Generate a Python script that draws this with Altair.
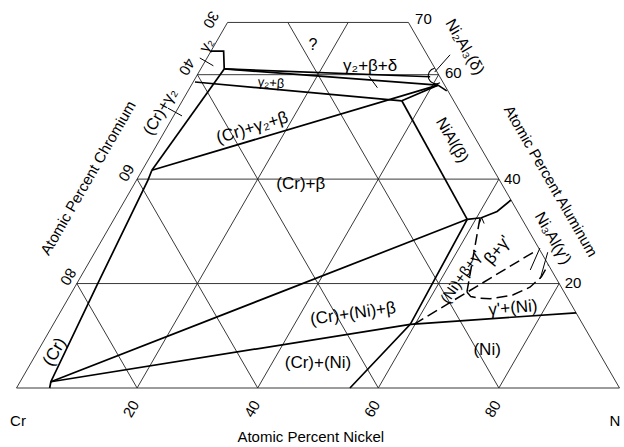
import math
import altair as alt
import pandas as pd

# ---- Cr-Ni-Al isothermal section, compositions as (Ni at.%, Al at.%) ----

# outline of the truncated composition triangle (Al <= 70 %)
outline = [(0, 0), (100, 0), (30, 70), (0, 70), (0, 0)]
grid_al = [20, 40, 60]
grid_ni = [20, 40, 60, 80]
grid_cr = [20, 40, 60, 80]
al_top = 70

# phase boundaries (solid)
phase_lines = {
    "cr_solvus": [(5.5, 0), (5.1, 1.2), (3.5, 19.7), (1.9, 39.8), (1.6, 41.7)],
    "g2_box": [(0, 64.5), (2.1, 64.5), (3.9, 61.1)],
    "g2_cr": [(3.9, 61.1), (1.6, 41.7)],
    "g2_delta": [(3.9, 61.1), (38.8, 59.6)],
    "g2_beta": [(3.9, 61.1), (40.9, 58.0)],
    "g2b_lower": [(0.3, 58.6), (36.4, 55.0)],
    "beta_top": [(36.4, 55.0), (40.9, 58.0), (42.9, 56.9)],
    "cr_beta": [(1.6, 41.7), (40.9, 58.0)],
    "beta_left": [(36.4, 55.0), (58.6, 32.3)],
    "cr_ni_beta_1": [(5.1, 1.2), (58.6, 32.3)],
    "cr_ni_beta_2": [(5.1, 1.2), (59.2, 12.2)],
    "ni_solvus": [(59.2, 12.2), (85.6, 14.4)],
    "ni_boundary": [(55.3, 0), (59.2, 12.2), (58.6, 32.3)],
    "beta_gp": [(58.6, 32.3), (60.8, 32.6), (62.8, 33.8), (64.0, 36.0)],
}

# uncertain boundaries (dashed)
dashed_lines = {
    "beta_gp_tie": [(60.6, 32.5), (65.5, 18.4)],
    "gp_upper": [(59.8, 12.2), (73.1, 26.4)],
    "gp_lower": [(65.5, 18.4), (66.6, 17.5), (68.2, 17.2), (70.0, 17.1),
                 (73.4, 17.8), (75.5, 19.3), (76.4, 21.3), (76.4, 23.6)],
}

# leaders, ticks and small marks (thin)
thin_marks = {
    "gp_mark1": [(73.9, 22.6), (73.4, 26.8)],
    "gp_mark2": [(76.4, 20.9), (75.1, 26.0)],
    "arrow": [(61.0, 31.5), (60.8, 32.65), (61.8, 31.5)],
    "lead_g2bd": [(28.6, 59.7), (31.1, 57.5)],
    "lead_delta": [(40.0, 63.8), (39.1, 60.5)],
    "tick_crg2": [(-1.7, 53.6), (1.4, 52.1)],
    "tick_g2": [(-1.2, 63.2), (1.8, 61.7)],
}

# delta (Ni2Al3) field marker centre
delta_ni, delta_al = 39.7, 59.75

# centred labels: text, Ni, Al, angle, font size
labels = [
    ("Cr", 3.4, -6.3, 0, 15), ("N", 102.4, -6.3, 0, 15),
    ("20", 21.0, -4.0, 300, 15), ("40", 41.1, -4.0, 300, 15),
    ("60", 61.0, -4.0, 300, 15), ("80", 81.0, -4.0, 300, 15),
    ("Atomic Percent Nickel", 53.5, -9.4, 0, 15),
    ("30", -3.0, 70.5, 120, 15), ("40", -2.5, 61.5, 120, 15),
    ("60", -2.4, 41.2, 120, 15), ("80", -2.1, 21.3, 120, 15),
    ("Atomic Percent Chromium", -8.2, 40.2, 300, 15),
    ("Atomic Percent Aluminum", 68.8, 39.6, 60, 15),
    ("?", 16.3, 65.7, 0, 16),
    ("γ₂+β+δ", 27.8, 61.7, 0, 17),
    ("γ₂+β", 13.0, 58.4, 4, 13),
    ("(Cr)+γ₂+β", 14.2, 49.8, 343, 17),
    ("(Cr)+β", 27.6, 39.1, 0, 17),
    ("(Cr)+(Ni)+β", 48.7, 14.2, 352, 17),
    ("(Cr)+(Ni)", 47.6, 4.8, 0, 17),
    ("(Ni)", 74.4, 7.3, 0, 17),
    ("γ'+(Ni)", 74.7, 15.3, 355, 17),
    ("β+γ'", 66.6, 26.4, 310, 17),
    ("(Ni)+β+γ'", 63.1, 21.3, 305, 15),
    ("Ni₃Al(γ')", 74.6, 28.7, 60, 16),
    ("NiAl(β)", 48.5, 47.5, 60, 16),
    ("Ni₂Al₃(δ)", 41.7, 65.3, 60, 16),
    ("(Cr)", 2.9, 6.9, 300, 17),
    ("(Cr)+γ₂", -2.6, 52.9, 300, 16),
    ("γ₂", -1.4, 65.7, 300, 15),
]

# aluminium scale labels on the Ni-Al side (left aligned)
al_ticks = ["20", "40", "60", "70"]
al_tick_pos = [(80.8, 20.2), (60.8, 40.1), (40.9, 60.3), (30.8, 70.6)]

FONT = "Liberation Sans"
H = math.sqrt(3) / 2


def proj(ni, al):
    return ni + al / 2, al * H


def lines_frame(groups):
    rows = []
    for name, pts in groups.items():
        for i, (ni, al) in enumerate(pts):
            x, y = proj(ni, al)
            rows.append({"seg": name, "order": i, "X": x, "Y": y})
    return pd.DataFrame(rows)


# grid segments
grid = {"outline": outline}
for v in grid_al:
    grid[f"al{v}"] = [(0, v), (100 - v, v)]
for v in grid_ni:
    grid[f"ni{v}"] = [(v, 0), (v, min(al_top, 100 - v))]
for v in grid_cr:
    top = min(al_top, 100 - v)
    grid[f"cr{v}"] = [(100 - v, 0), (100 - v - top, top)]

xs = alt.Scale(domain=[-16.5 / 6.03, (624 - 16.5) / 6.03])
ys = alt.Scale(domain=[-59 / 6.03, 388 / 6.03])


def line_layer(df, width, dash=None, color="black"):
    kw = dict(strokeWidth=width, color=color, clip=False)
    if dash:
        kw["strokeDash"] = dash
    return alt.Chart(df).mark_line(**kw).encode(
        x=alt.X("X:Q", scale=xs, axis=None),
        y=alt.Y("Y:Q", scale=ys, axis=None),
        detail="seg:N",
        order="order:Q",
    )


grid_layer = line_layer(lines_frame(grid), 0.9, color="#222222")
phase_layer = line_layer(lines_frame(phase_lines), 1.7)
dash_layer = line_layer(lines_frame(dashed_lines), 1.5, dash=[11, 5])
thin_layer = line_layer(lines_frame(thin_marks), 1.0)

dx, dy = proj(delta_ni, delta_al)
arc_layer = alt.Chart(pd.DataFrame({"X": [dx], "Y": [dy]})).mark_arc(
    theta=2.62, theta2=6.11, radius=8.4, radius2=7.3, color="black"
).encode(
    x=alt.X("X:Q", scale=xs, axis=None),
    y=alt.Y("Y:Q", scale=ys, axis=None),
)

lab = pd.DataFrame(labels, columns=["text", "Ni", "Al", "angle", "size"])
lab["X"], lab["Y"] = proj(lab["Ni"], lab["Al"])
text_layer = alt.Chart(lab).mark_text(
    font=FONT, align="center", baseline="middle", color="black"
).encode(
    x=alt.X("X:Q", scale=xs, axis=None),
    y=alt.Y("Y:Q", scale=ys, axis=None),
    text="text:N",
    angle=alt.Angle("angle:Q", scale=None),
    size=alt.Size("size:Q", scale=None, legend=None),
)

al_lab = pd.DataFrame({
    "text": al_ticks,
    "Ni": [p[0] for p in al_tick_pos],
    "Al": [p[1] for p in al_tick_pos],
})
al_lab["X"], al_lab["Y"] = proj(al_lab["Ni"], al_lab["Al"])
al_layer = alt.Chart(al_lab).mark_text(
    font=FONT, fontSize=15, align="left", baseline="middle", color="black"
).encode(
    x=alt.X("X:Q", scale=xs, axis=None),
    y=alt.Y("Y:Q", scale=ys, axis=None),
    text="text:N",
)

chart = alt.layer(
    grid_layer, phase_layer, dash_layer, thin_layer, arc_layer,
    text_layer, al_layer,
).properties(
    width=624, height=447, padding=0,
    autosize=alt.AutoSizeParams(type="none"),
    background="white",
).configure_view(stroke=None)

chart.save("out.html", embed_options={"renderer": "svg", "actions": False})
